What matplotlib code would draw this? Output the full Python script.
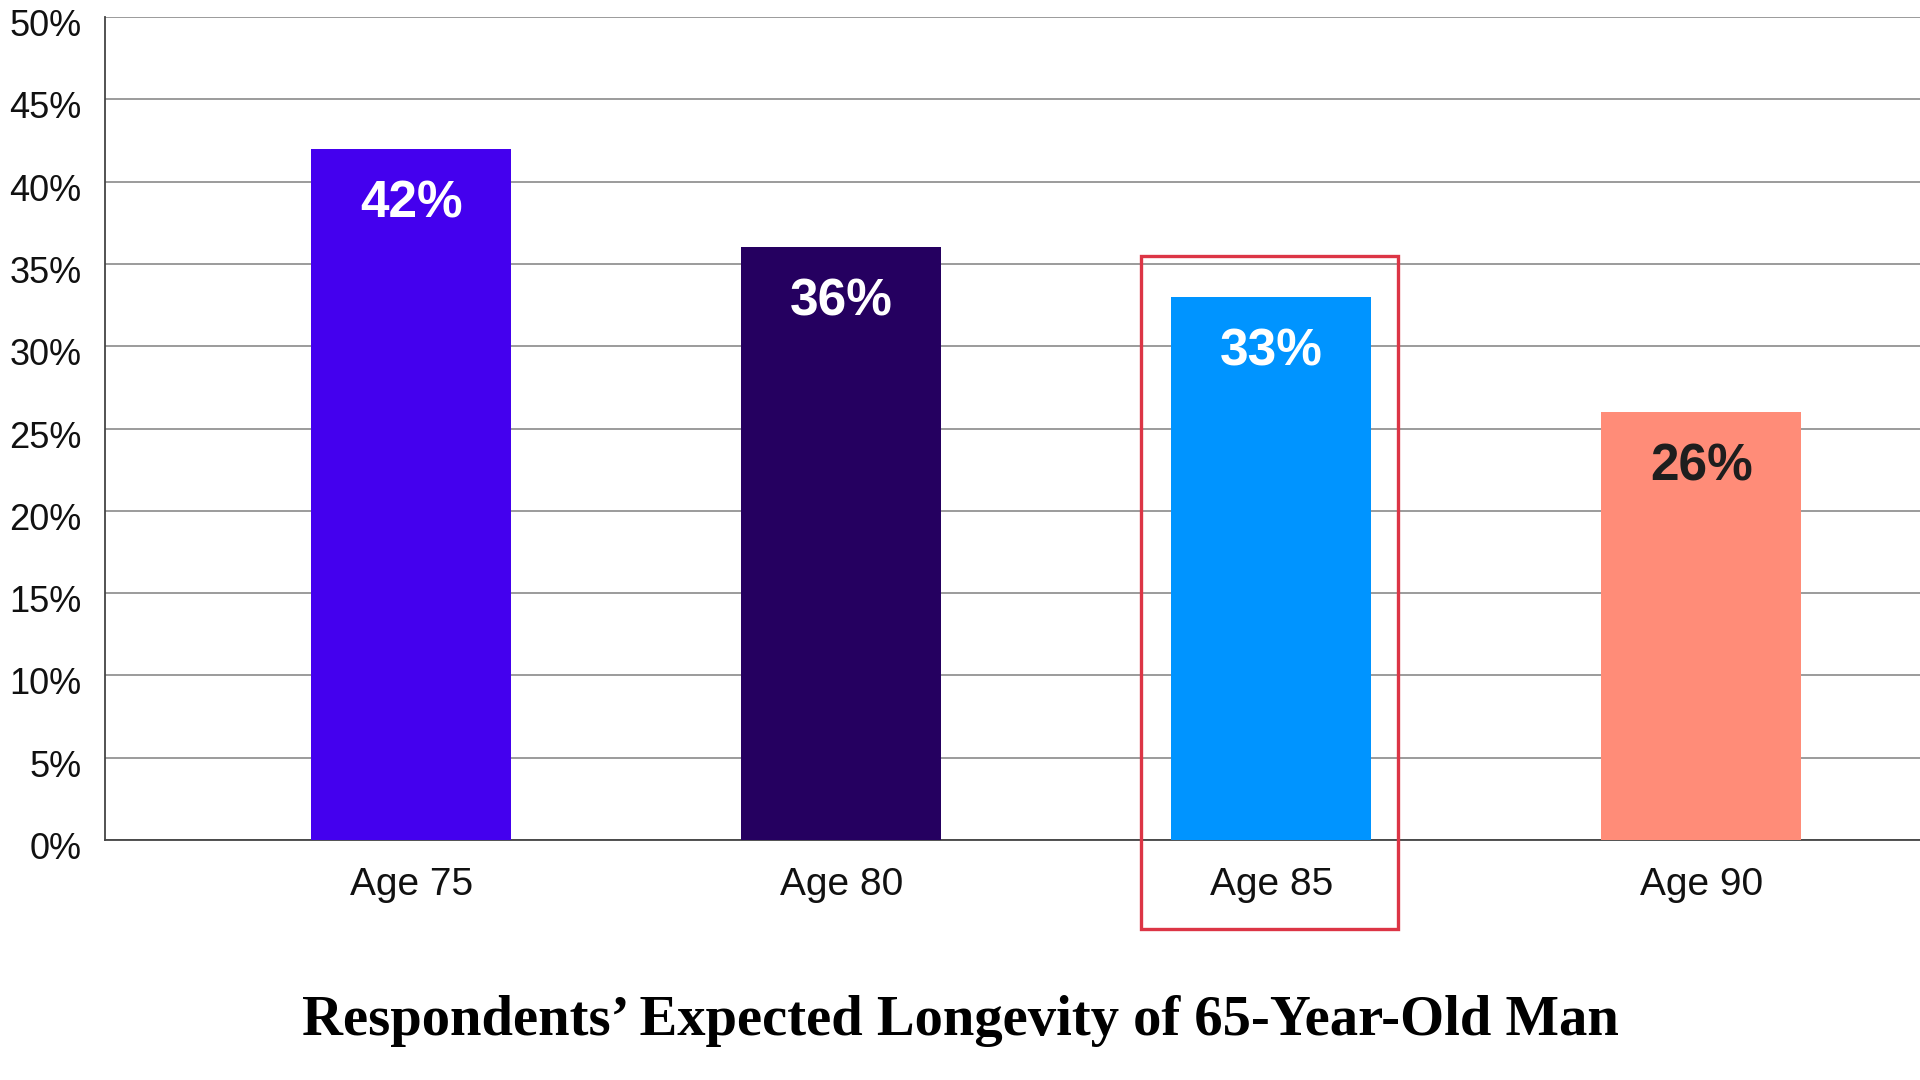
import matplotlib
matplotlib.use("Agg")
import matplotlib.pyplot as plt
from matplotlib.patches import Rectangle
from matplotlib.transforms import ScaledTranslation

categories = ["Age 75", "Age 80", "Age 85", "Age 90"]
values = [42, 36, 33, 26]
bar_colors = ["#4400EE", "#250060", "#0094FF", "#FF8C78"]
label_colors = ["white", "white", "white", "#1e1e1e"]
yticks = [0, 5, 10, 15, 20, 25, 30, 35, 40, 45, 50]
ytick_labels = [f"{t}%" for t in yticks]
title = "Respondents\u2019 Expected Longevity of 65-Year-Old Man"
highlight = "Age 85"

fig = plt.figure(figsize=(19.2, 10.8), dpi=100)
ax = fig.add_axes([0.0547, 0.2222, 0.9453, 0.7620])

x = list(range(len(categories)))
ax.bar(x, values, width=0.465, color=bar_colors, zorder=3)

ax.set_xlim(-0.712, 3.509)
ax.set_ylim(0, 50)
ax.set_yticks(yticks)
ax.set_yticklabels(ytick_labels, family="Liberation Sans", fontsize=26, color="#111111")
ax.set_xticks(x)
ax.set_xticklabels(categories, family="Liberation Sans", fontsize=28, color="#111111")
ax.tick_params(axis="y", length=0, pad=17)
ax.tick_params(axis="x", length=0, pad=19.5)

# y tick labels sit slightly below their gridlines in the reference
offset = ScaledTranslation(0, -4 / 72, fig.dpi_scale_trans)
for lab in ax.get_yticklabels():
    lab.set_transform(lab.get_transform() + offset)

ax.grid(axis="y", color="#8a8a8a", linewidth=1.2, zorder=0)
ax.set_axisbelow(True)
for s in ["top", "right"]:
    ax.spines[s].set_visible(False)
ax.spines["left"].set_color("#444444")
ax.spines["left"].set_linewidth(1.3)
ax.spines["bottom"].set_color("#444444")
ax.spines["bottom"].set_linewidth(1.3)

for i, v in enumerate(values):
    ax.annotate(f"{v}%", (i, v), xytext=(0, -39.5), textcoords="offset points",
                ha="center", va="center", fontsize=37, fontweight="bold",
                family="Liberation Sans", color=label_colors[i], zorder=4)

hi = categories.index(highlight)
rect = Rectangle((hi - 0.303, -5.4), 0.598, 40.9, fill=False,
                 edgecolor="#DC3545", linewidth=2.4, clip_on=False, zorder=5)
ax.add_patch(rect)

fig.text(0.5, 0.055, title, ha="center", va="center", family="Liberation Serif",
         fontweight="bold", fontsize=40.8, color="#000000")

fig.savefig("out.png", dpi=100, facecolor="white")
